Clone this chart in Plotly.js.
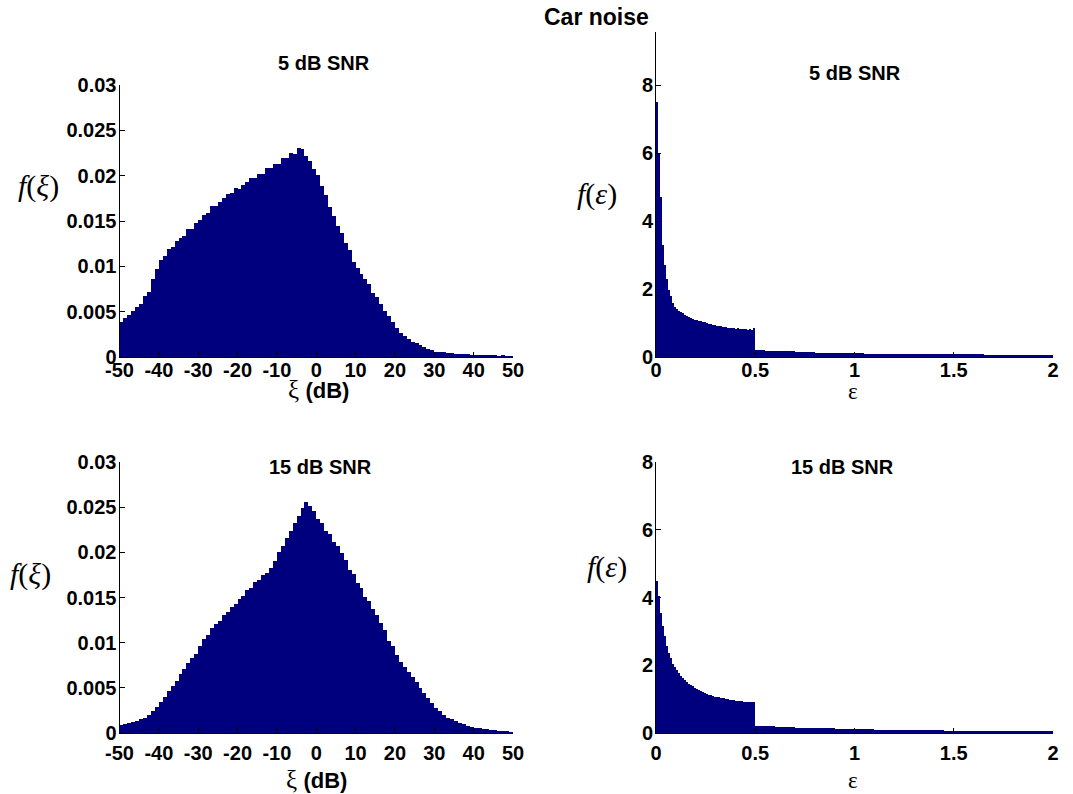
<!DOCTYPE html>
<html>
<head>
<meta charset="utf-8">
<script src="https://cdn.plot.ly/plotly-3.0.1.min.js"></script>
<style>html,body{margin:0;padding:0;background:#fff;}#chart{width:1073px;height:794px;}</style>
</head>
<body>
<div id="chart"></div>
<script>
// ---- Data ----
var figTitle = "Car noise";
var panelTitles = ["5 dB SNR", "5 dB SNR", "15 dB SNR", "15 dB SNR"];

// xi histogram: 1 dB bins from -50 to 50
var xiBinStart = -50, xiBinWidth = 1;
var xi5 = [
 0.0039,0.0043,0.0046,0.0051,0.0055, 0.0058,0.0067,0.0072,0.0086,0.0097,
 0.0107,0.0111,0.0119,0.0121,0.0128, 0.0131,0.0134,0.0141,0.0141,0.0148,
 0.0151,0.0157,0.0159,0.0166,0.0167, 0.0171,0.0175,0.0180,0.0181,0.0186,
 0.0185,0.0190,0.0193,0.0197,0.0197, 0.0202,0.0202,0.0208,0.0208,0.0213,
 0.0213,0.0219,0.0220,0.0225,0.0224, 0.0231,0.0229,0.0222,0.0216,0.0207,
 0.0201,0.0189,0.0179,0.0165,0.0155, 0.0145,0.0137,0.0126,0.0118,0.0105,
 0.0098,0.0091,0.0086,0.0080,0.0071, 0.0066,0.0058,0.0051,0.0045,0.0039,
 0.0032,0.0027,0.0023,0.0020,0.0017, 0.0015,0.0013,0.0011,0.0009,0.0008,
 0.0006,0.0005,0.0005,0.0004,0.0004, 0.0003,0.0003,0.0003,0.0003,0.0002,
 0.0002,0.0002,0.0002,0.0002,0.0002, 0.0002,0.0001,0.0002,0.0001,0.0001
];
var xi15 = [
 0.0009,0.0010,0.0011,0.0012,0.0013, 0.0015,0.0017,0.0020,0.0024,0.0029,
 0.0034,0.0040,0.0046,0.0052,0.0058, 0.0065,0.0071,0.0077,0.0083,0.0088,
 0.0096,0.0104,0.0109,0.0116,0.0121, 0.0124,0.0131,0.0134,0.0140,0.0143,
 0.0148,0.0152,0.0158,0.0161,0.0167, 0.0169,0.0175,0.0177,0.0183,0.0190,
 0.0200,0.0207,0.0216,0.0224,0.0233, 0.0240,0.0249,0.0256,0.0251,0.0246,
 0.0237,0.0233,0.0224,0.0220,0.0211, 0.0207,0.0199,0.0191,0.0181,0.0176,
 0.0166,0.0161,0.0151,0.0146,0.0137, 0.0131,0.0122,0.0114,0.0102,0.0096,
 0.0086,0.0079,0.0073,0.0068,0.0062, 0.0056,0.0050,0.0044,0.0039,0.0033,
 0.0028,0.0024,0.0020,0.0017,0.0015, 0.0013,0.0011,0.0010,0.0008,0.0007,
 0.0006,0.0005,0.0004,0.0004,0.0003, 0.0003,0.0002,0.0002,0.0002,0.0001
];

// epsilon histogram: fine bins 0..0.5 (0.01), tail bins 0.5..2 (0.05)
var epsFineStart = 0, epsFineWidth = 0.01;
var epsTailStart = 0.5, epsTailWidth = 0.05;
var eps5Fine = [
 7.50,6.00,4.70,3.30,2.70,2.30,1.98,1.78,1.60,1.47,
 1.40,1.36,1.32,1.28,1.25,1.22,1.18,1.15,1.12,1.10,
 1.08,1.07,1.05,1.03,1.03,1.00,0.98,0.96,0.95,0.94,
 0.92,0.92,0.90,0.89,0.88,0.88,0.86,0.85,0.85,0.84,
 0.83,0.84,0.82,0.83,0.81,0.82,0.80,0.81,0.80,0.85
];
var eps5Tail = [
 0.20,0.19,0.17,0.17,0.16,0.15,0.13,0.12,0.12,0.11,
 0.11,0.10,0.10,0.10,0.09,0.09,0.09,0.09,0.08,0.08,
 0.08,0.08,0.08,0.07,0.07,0.07,0.07,0.06,0.06,0.07
];
var eps15Fine = [
 4.50,4.05,3.55,3.15,2.85,2.56,2.36,2.20,2.05,1.95,
 1.85,1.78,1.68,1.62,1.56,1.50,1.46,1.42,1.38,1.34,
 1.30,1.27,1.24,1.20,1.18,1.16,1.13,1.11,1.09,1.07,
 1.05,1.05,1.03,1.02,1.02,1.00,0.99,0.98,0.97,0.96,
 0.95,0.95,0.94,0.94,0.93,0.93,0.93,0.92,0.93,0.92
];
var eps15Tail = [
 0.22,0.20,0.18,0.17,0.16,0.15,0.15,0.14,0.13,0.12,
 0.12,0.11,0.10,0.10,0.09,0.08,0.08,0.08,0.08,0.07,
 0.07,0.07,0.07,0.07,0.07,0.07,0.06,0.06,0.05,0.05
];

var xiTicks = [-50,-40,-30,-20,-10,0,10,20,30,40,50];
var xiYTicks = [0,0.005,0.01,0.015,0.02,0.025,0.03];
var xiYTickText = ["0","0.005","0.01","0.015","0.02","0.025","0.03"];
var epsTicks = [0,0.5,1,1.5,2];
var epsTickText = ["0","0.5","1","1.5","2"];
var epsYTicks = [0,2,4,6,8];

// ---- Build ----
function centers(start, width, n){ var c=[]; for(var i=0;i<n;i++) c.push(start+width*(i+0.5)); return c; }
var barColor = "#00007f";
function barTrace(x, y, w, xa, ya){
  return {type:"bar", x:x, y:y, width:w, xaxis:xa, yaxis:ya,
    marker:{color:barColor, line:{width:0}}, hoverinfo:"x+y", showlegend:false};
}
var traces = [
  barTrace(centers(xiBinStart, xiBinWidth, xi5.length), xi5, xiBinWidth, "x", "y"),
  barTrace(centers(epsFineStart, epsFineWidth, eps5Fine.length), eps5Fine, epsFineWidth, "x2", "y2"),
  barTrace(centers(epsTailStart, epsTailWidth, eps5Tail.length), eps5Tail, epsTailWidth, "x2", "y2"),
  barTrace(centers(xiBinStart, xiBinWidth, xi15.length), xi15, xiBinWidth, "x3", "y3"),
  barTrace(centers(epsFineStart, epsFineWidth, eps15Fine.length), eps15Fine, epsFineWidth, "x4", "y4"),
  barTrace(centers(epsTailStart, epsTailWidth, eps15Tail.length), eps15Tail, epsTailWidth, "x4", "y4")
];

var W = 1073, H = 794;
function dx(a,b){ return [a/W, b/W]; }
function dy(top,bot){ return [1-bot/H, 1-top/H]; }
var tickFont = {family:"Liberation Sans, Arial, sans-serif", size:20, color:"#000", weight:"bold"};
function xAxis(dom, anchor, range, tv, tt, standoff){
  return {domain:dom, anchor:anchor, range:range, tickmode:"array", tickvals:tv, ticktext:tt,
    ticks:"inside", ticklen:5, tickwidth:1, tickcolor:"#000", showline:true, linecolor:"#000", linewidth:1,
    mirror:false, showgrid:false, zeroline:false, tickfont:tickFont, fixedrange:true, ticklabelstandoff:standoff};
}
function yAxis(dom, anchor, range, tv, tt){
  return {domain:dom, anchor:anchor, range:range, tickmode:"array", tickvals:tv, ticktext:tt,
    ticks:"inside", ticklen:5, tickwidth:1, tickcolor:"#000", showline:true, linecolor:"#000", linewidth:1,
    mirror:false, showgrid:false, zeroline:false, tickfont:tickFont, fixedrange:true, ticklabelstandoff:-2};
}
var xiTickText = xiTicks.map(String);
var epsYTickText = epsYTicks.map(String);

function ann(text, xpx, ypx, font){
  return {text:text, x:xpx/W, y:1-ypx/H, xref:"paper", yref:"paper", xanchor:"center", yanchor:"middle",
    showarrow:false, font:font};
}
var titleFont = {family:"Liberation Sans, Arial, sans-serif", size:20, color:"#000", weight:"bold"};
var bigFont = {family:"Liberation Sans, Arial, sans-serif", size:23, color:"#000", weight:"bold"};
var serif = {family:"Liberation Serif, Times New Roman, serif", size:30, color:"#000"};
var xlabFont = {family:"Liberation Serif, Times New Roman, serif", size:25, color:"#000"};
var epsLabFont = {family:"Liberation Serif, Times New Roman, serif", size:23, color:"#000"};
var xiLab = 'ξ <span style="font-family:Liberation Sans, Arial, sans-serif;font-weight:bold;font-size:22px">(dB)</span>';

var layout = {
  width:W, height:H, margin:{l:0,r:0,t:0,b:0}, paper_bgcolor:"#fff", plot_bgcolor:"rgba(0,0,0,0)",
  bargap:0, barmode:"overlay", showlegend:false,
  xaxis: xAxis(dx(119.5,513), "y", [-50,50], xiTicks, xiTickText, -5),
  yaxis: yAxis(dy(85,357), "x", [0,0.03], xiYTicks, xiYTickText),
  xaxis2: xAxis(dx(656,1053), "y2", [0,2], epsTicks, epsTickText, -5),
  yaxis2: yAxis(dy(32,357), "x2", [0,9.56], epsYTicks, epsYTickText),
  xaxis3: xAxis(dx(119.5,513), "y3", [-50,50], xiTicks, xiTickText, 2),
  yaxis3: yAxis(dy(462,733), "x3", [0,0.03], xiYTicks, xiYTickText),
  xaxis4: xAxis(dx(656,1053), "y4", [0,2], epsTicks, epsTickText, 2),
  yaxis4: yAxis(dy(462,733), "x4", [0,8], epsYTicks, epsYTickText),
  annotations:[
    ann(figTitle, 596, 17, bigFont),
    ann(panelTitles[0], 324, 63, titleFont),
    ann(panelTitles[1], 855, 73, titleFont),
    ann(panelTitles[2], 320, 467, titleFont),
    ann(panelTitles[3], 842, 467, titleFont),
    ann('<i>f</i>(<i>ξ</i>)', 38, 186, serif),
    ann('<i>f</i>(<i>ε</i>)', 597, 194, serif),
    ann('<i>f</i>(<i>ξ</i>)', 30, 574, serif),
    ann('<i>f</i>(<i>ε</i>)', 607, 567, serif),
    ann(xiLab, 318, 389, xlabFont),
    ann(xiLab, 316, 779, xlabFont),
    ann('ε', 853, 391, epsLabFont),
    ann('ε', 853, 780, epsLabFont)
  ]
};
Plotly.newPlot("chart", traces, layout, {staticPlot:true, displayModeBar:false});
</script>
</body>
</html>
